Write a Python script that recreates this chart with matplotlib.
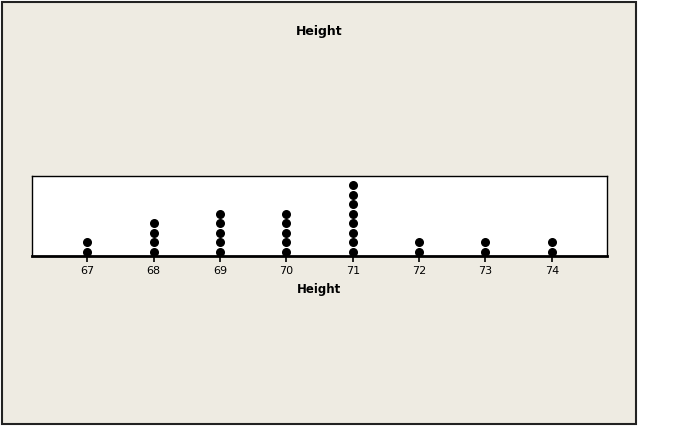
import matplotlib.pyplot as plt
from matplotlib.patches import Rectangle

# dot plot of heights: value -> number of observations
heights = [67, 68, 69, 70, 71, 72, 73, 74]
counts = [2, 4, 5, 5, 8, 2, 2, 2]
tick_labels = ["67", "68", "69", "70", "71", "72", "73", "74"]

W, H = 678, 443
BG = "#EEEBE2"

fig = plt.figure(figsize=(W / 100, H / 100), dpi=100)
fig.patch.set_facecolor("white")

# outer beige panel with dark frame
fig.patches.append(Rectangle((2 / W, 1 - 424 / H), 634 / W, 422 / H,
                             transform=fig.transFigure, facecolor=BG,
                             edgecolor="#222222", linewidth=1.5, zorder=-10))

ax = fig.add_axes([32 / W, 1 - 256 / H, 575 / W, 80 / H])
ax.set_zorder(5)
ax.set_facecolor("white")

xs, ys = [], []
for h, c in zip(heights, counts):
    for k in range(1, c + 1):
        xs.append(h)
        ys.append(k)
ax.scatter(xs, ys, s=30, color="black", zorder=3, clip_on=False)

ax.set_xlim(66.17, 74.83)
ax.set_ylim(0.547, 8.97)
ax.set_yticks([])
ax.set_xticks(heights)
ax.set_xticklabels(tick_labels, fontsize=8)
ax.tick_params(axis="x", direction="out", length=4, width=1.2, pad=3)
for side in ["top", "left", "right"]:
    ax.spines[side].set_linewidth(1.0)
ax.spines["bottom"].set_linewidth(2.0)
ax.set_xlabel("Height", fontsize=8.5, fontweight="bold", labelpad=5)

fig.text(319 / W, 1 - 31 / H, "Height", ha="center", va="center",
         fontsize=9, fontweight="bold", zorder=6)

fig.savefig("out.png", dpi=100, facecolor=fig.get_facecolor())
